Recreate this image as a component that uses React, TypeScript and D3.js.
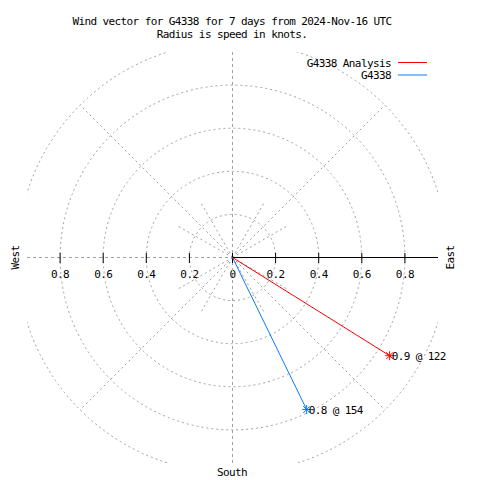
import React from "react";
import * as d3 from "d3";

const titleLines = ["Wind vector for G4338 for 7 days from 2024-Nov-16 UTC", "Radius is speed in knots."];
const seriesNames = ["G4338 Analysis", "G4338"];
const seriesColors = ["#ff0000", "#0a7cf0"];
const speeds = [0.86, 0.785];
const directions = [122, 154];
const labelSpeeds = ["0.9", "0.8"];
const tickValues = [0.2, 0.4, 0.6, 0.8];
const ringValues = [0.2, 0.4, 0.6, 0.8, 1.0];
const spokeAngles = [45, 135, 225, 315];
const innerSpokeAngles = [30, 60, 120, 150, 210, 240, 300, 330];

const W = 480, H = 480;
const cx = 232.5, cy = 257.5;
const half = 205.5;
const FONT = "'DejaVu Sans Mono', monospace";
const fontStyle = { fontFamily: FONT, fontSize: 11, letterSpacing: -0.6 } as const;

export default function App() {
  const r = d3.scaleLinear().domain([0, 1]).range([0, 215.5]);
  const pt = (speed: number, deg: number) => {
    const a = (deg * Math.PI) / 180;
    return [cx + r(speed) * Math.sin(a), cy - r(speed) * Math.cos(a)];
  };
  const grid = "#a0a0a0";
  const star = (x: number, y: number, color: string, key: string) => {
    const s = 4.5;
    return (
      <g key={key} stroke={color} strokeWidth={1}>
        <line x1={x - s} y1={y} x2={x + s} y2={y} />
        <line x1={x} y1={y - s} x2={x} y2={y + s} />
        <line x1={x - s * 0.75} y1={y - s * 0.75} x2={x + s * 0.75} y2={y + s * 0.75} />
        <line x1={x - s * 0.75} y1={y + s * 0.75} x2={x + s * 0.75} y2={y - s * 0.75} />
      </g>
    );
  };
  return (
    <svg width={W} height={H} style={{ position: "absolute", left: 0, top: 0, background: "#fff" }}>
      <defs>
        <clipPath id="plot">
          <rect x={cx - half} y={cy - half} width={half * 2} height={half * 2} />
        </clipPath>
      </defs>
      <rect width={W} height={H} fill="#fff" />
      {/* title */}
      <g style={fontStyle} textAnchor="middle" fill="#000">
        {titleLines.map((t, i) => (
          <text key={i} x={232} y={24.5 + i * 13}>{t}</text>
        ))}
      </g>
      {/* tick labels */}
      <g style={fontStyle} textAnchor="middle" fill="#000">
        <text x={cx} y={278}>0</text>
        {tickValues.map((v) => (
          <text key={"e" + v} x={cx + r(v)} y={278}>{String(v)}</text>
        ))}
        {tickValues.map((v) => (
          <text key={"w" + v} x={cx - r(v)} y={278}>{String(v)}</text>
        ))}
      </g>
      {/* grid */}
      <g clipPath="url(#plot)" fill="none" stroke={grid} strokeWidth={1}>
        {ringValues.map((v) => (
          <circle key={v} cx={cx} cy={cy} r={r(v)} strokeDasharray="2,3" />
        ))}
        {spokeAngles.map((a) => {
          const [x, y] = pt(1, a);
          return <line key={a} x1={cx} y1={cy} x2={x} y2={y} strokeDasharray="2,3" />;
        })}
        {innerSpokeAngles.map((a) => {
          const [x, y] = pt(0.3, a);
          return <line key={"i" + a} x1={cx} y1={cy} x2={x} y2={y} strokeDasharray="2,3" />;
        })}
        <line x1={cx} y1={cy - half} x2={cx} y2={cy + half} strokeDasharray="3,3" />
        <line x1={cx - half} y1={cy} x2={cx} y2={cy} strokeDasharray="3,3" />
      </g>
      {/* east axis */}
      <line x1={cx} y1={cy} x2={cx + half} y2={cy} stroke="#000" strokeWidth={1} />
      {[0, ...tickValues].map((v) => (
        <g key={"t" + v} stroke="#000">
          <line x1={cx + r(v)} y1={cy - 4.5} x2={cx + r(v)} y2={cy + 5.5} />
          {v > 0 && <line x1={cx - r(v)} y1={cy - 4.5} x2={cx - r(v)} y2={cy + 5.5} />}
        </g>
      ))}
      {/* direction labels */}
      <g style={fontStyle} fill="#000" textAnchor="middle">
        <text transform={`translate(454,${cy}) rotate(-90)`}>East</text>
        <text transform={`translate(19,${cy}) rotate(-90)`}>West</text>
        <text x={232} y={475.5}>South</text>
      </g>
      {/* vectors */}
      {speeds.map((s, i) => {
        const [x, y] = pt(s, directions[i]);
        return (
          <g key={"v" + i}>
            <line x1={cx} y1={cy} x2={x} y2={y} stroke={seriesColors[i]} strokeWidth={1} />
            {star(x, y, seriesColors[i], "s" + i)}
            <text x={x + 2} y={y + 4} style={fontStyle} fill="#000">
              {`${labelSpeeds[i]} @ ${directions[i]}`}
            </text>
          </g>
        );
      })}
      {/* legend */}
      <g style={fontStyle} fill="#000" textAnchor="end">
        {seriesNames.map((n, i) => (
          <g key={n}>
            <text x={391} y={67 + i * 12}>{n}</text>
            <line x1={398} y1={62.5 + i * 12.5} x2={427} y2={62.5 + i * 12.5} stroke={seriesColors[i]} strokeWidth={1} />
          </g>
        ))}
      </g>
    </svg>
  );
}
